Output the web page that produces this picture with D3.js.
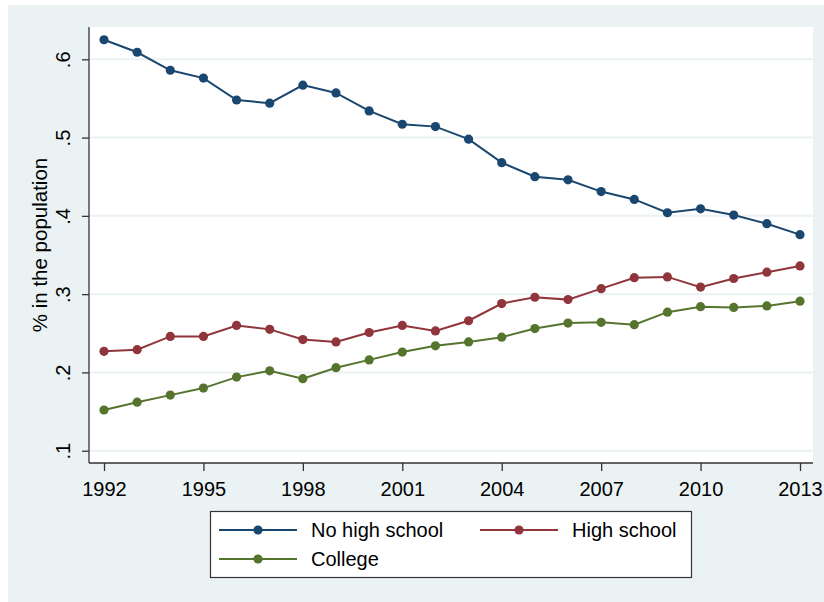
<!DOCTYPE html>
<html>
<head>
<meta charset="utf-8">
<script src="https://cdn.jsdelivr.net/npm/d3@7"></script>
<style>
  html, body { margin: 0; padding: 0; background: #ffffff; }
  svg { display: block; font-family: "Liberation Sans", Arial, sans-serif; }
</style>
</head>
<body>
<svg id="chart" width="824" height="602"></svg>
<script>
const years = [1992,1993,1994,1995,1996,1997,1998,1999,2000,2001,2002,2003,2004,2005,2006,2007,2008,2009,2010,2011,2012,2013];
const noHighSchool = [0.625,0.609,0.586,0.576,0.548,0.544,0.567,0.557,0.534,0.517,0.514,0.498,0.468,0.450,0.446,0.431,0.421,0.404,0.409,0.401,0.390,0.376];
const highSchool = [0.227,0.229,0.246,0.246,0.260,0.255,0.242,0.239,0.251,0.260,0.253,0.266,0.288,0.296,0.293,0.307,0.321,0.322,0.309,0.320,0.328,0.336];
const college = [0.152,0.162,0.171,0.180,0.194,0.202,0.192,0.206,0.216,0.226,0.234,0.239,0.245,0.256,0.263,0.264,0.261,0.277,0.284,0.283,0.285,0.291];
const seriesNames = ["No high school","High school","College"];
const seriesColors = ["#1a476f","#90353b","#55752f"];
const xTicks = [1992,1995,1998,2001,2004,2007,2010,2013];
const yTicks = [0.1,0.2,0.3,0.4,0.5,0.6];
const yTickLabels = [".1",".2",".3",".4",".5",".6"];
const yTitle = "% in the population";

const series = [noHighSchool, highSchool, college];

const svg = d3.select("#chart");

// graph region background
svg.append("rect").attr("x",8).attr("y",5).attr("width",816).attr("height",597).attr("fill","#eaf2f3");
// plot region
const plot = {left:89, right:813, top:27, bottom:463};
svg.append("rect").attr("x",plot.left).attr("y",plot.top)
  .attr("width",plot.right-plot.left).attr("height",plot.bottom-plot.top).attr("fill","#ffffff");

const x = d3.scaleLinear().domain([1992,2013]).range([104,800]);
const y = d3.scaleLinear().domain([0.1,0.6]).range([450.7,59.3]);

// grid
svg.append("g").selectAll("line").data(yTicks).join("line")
  .attr("x1",plot.left).attr("x2",plot.right)
  .attr("y1",d=>y(d)).attr("y2",d=>y(d))
  .attr("stroke","#eaf2f3").attr("stroke-width",2);

// series
const line = d3.line().x((d,i)=>x(years[i])).y(d=>y(d));
series.forEach((vals,k)=>{
  svg.append("path").datum(vals).attr("d",line)
    .attr("fill","none").attr("stroke",seriesColors[k]).attr("stroke-width",2);
  svg.append("g").selectAll("circle").data(vals).join("circle")
    .attr("cx",(d,i)=>x(years[i])).attr("cy",d=>y(d)).attr("r",4.6)
    .attr("fill",seriesColors[k]);
});

// axes
const yAxis = d3.axisLeft(y).tickValues(yTicks).tickSize(7)
  .tickFormat((d,i)=>yTickLabels[i]);
const gy = svg.append("g").attr("transform",`translate(${plot.left},0)`).call(yAxis);
gy.select(".domain").attr("d",`M0,${plot.top}V${plot.bottom}`).attr("stroke","#333").attr("stroke-width",1.3);
gy.selectAll(".tick line").attr("stroke","#333").attr("stroke-width",1.3);
gy.selectAll(".tick text").attr("x",null).attr("dy",null)
  .attr("transform","translate(-19,0) rotate(-90)")
  .attr("text-anchor","middle").attr("font-size",20)
  .attr("font-family","'Liberation Sans', Arial, sans-serif").attr("fill","#000");

const xAxis = d3.axisBottom(x).tickValues(xTicks).tickSize(8).tickFormat(d3.format("d"));
const gx = svg.append("g").attr("transform",`translate(0,${plot.bottom})`).call(xAxis);
gx.select(".domain").attr("d",`M${plot.left},0H${plot.right}`).attr("stroke","#333").attr("stroke-width",1.3);
gx.selectAll(".tick line").attr("stroke","#333").attr("stroke-width",1.3);
gx.selectAll(".tick text").attr("y",33).attr("dy",null)
  .attr("font-size",20).attr("font-family","'Liberation Sans', Arial, sans-serif").attr("fill","#000");

// y title
svg.append("text").attr("transform","translate(47,245) rotate(-90)")
  .attr("text-anchor","middle").attr("font-size",20.5).attr("fill","#000").text(yTitle);

// legend
svg.append("rect").attr("x",210.5).attr("y",511.5).attr("width",481).attr("height",66)
  .attr("fill","#ffffff").attr("stroke","#333").attr("stroke-width",1.2);
const legPos = [{x:219,y:530},{x:480,y:530},{x:219,y:559}];
seriesNames.forEach((name,k)=>{
  const p = legPos[k];
  const g = svg.append("g");
  g.append("line").attr("x1",p.x).attr("x2",p.x+78).attr("y1",p.y).attr("y2",p.y)
    .attr("stroke",seriesColors[k]).attr("stroke-width",2);
  g.append("circle").attr("cx",p.x+39).attr("cy",p.y).attr("r",4.6).attr("fill",seriesColors[k]);
  g.append("text").attr("x",p.x+92).attr("y",p.y+7).attr("font-size",20).attr("fill","#000").text(name);
});
</script>
</body>
</html>
